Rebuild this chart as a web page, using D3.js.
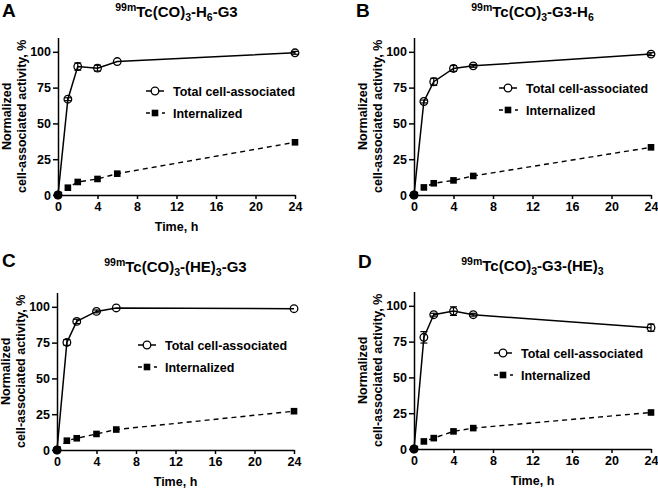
<!DOCTYPE html>
<html>
<head>
<meta charset="utf-8">
<script src="https://cdn.jsdelivr.net/npm/d3@7"></script>
<style>
  body { margin: 0; background: #fff; }
  svg text { font-family: "Liberation Sans", Arial, sans-serif; font-weight: bold; fill: #000; }
</style>
</head>
<body>
<svg id="fig" width="658" height="490"></svg>
<script>
// time points (h)
const times = [0, 1, 2, 4, 6, 24];
const xTicks = [0, 4, 8, 12, 16, 20, 24];
const yTicks = [0, 25, 50, 75, 100];

// normalized cell-associated activity, %
const totalA = [0, 66.9, 89.7, 88.6, 93.2, 99.3];
const totalAErr = [0, 1, 2.5, 2, 0.5, 1];
const internalA = [0, 5.1, 9.1, 11.2, 14.9, 36.8];

const totalB = [0, 65.3, 79.1, 88.4, 90.2, 98.4];
const totalBErr = [0, 1, 2.5, 2, 1, 1];
const internalB = [0, 5.3, 8.2, 10.2, 13.3, 33.3];

const totalC = [0, 75.1, 89.8, 96.8, 99.2, 98.7];
const totalCErr = [0, 2, 1.5, 1, 0.5, 0.5];
const internalC = [0, 6.5, 8.2, 11.2, 14.3, 27.1];

const totalD = [0, 78, 93.8, 96.3, 93.8, 84.7];
const totalDErr = [0, 4, 1, 3, 1, 2.5];
const internalD = [0, 5.3, 7.6, 12.3, 14.6, 25.5];

const legendLabels = ["Total cell-associated", "Internalized"];

// title pieces: [text, role]
const titleA = [["99m", "sup"], ["Tc(CO)", ""], ["3", "sub"], ["-H", ""], ["6", "sub"], ["-G3", ""]];
const titleB = [["99m", "sup"], ["Tc(CO)", ""], ["3", "sub"], ["-G3-H", ""], ["6", "sub"]];
const titleC = [["99m", "sup"], ["Tc(CO)", ""], ["3", "sub"], ["-(HE)", ""], ["3", "sub"], ["-G3", ""]];
const titleD = [["99m", "sup"], ["Tc(CO)", ""], ["3", "sub"], ["-G3-(HE)", ""], ["3", "sub"]];

const panels = [
  {letter: "A", title: titleA, total: totalA, err: totalAErr, internal: internalA,
   left: 58, bottom: 195, letterX: 2, letterY: 17, legX: 155, legY: 91, xLabel: true},
  {letter: "B", title: titleB, total: totalB, err: totalBErr, internal: internalB,
   left: 414, bottom: 195, letterX: 356, letterY: 17, legX: 508, legY: 88, xLabel: false},
  {letter: "C", title: titleC, total: totalC, err: totalCErr, internal: internalC,
   left: 57, bottom: 450, letterX: 2, letterY: 267, legX: 147, legY: 345, xLabel: true},
  {letter: "D", title: titleD, total: totalD, err: totalDErr, internal: internalD,
   left: 414, bottom: 449, letterX: 358, letterY: 268, legX: 503, legY: 353, xLabel: true}
];

const plotW = 237, plotH = 157.5;
const svg = d3.select("#fig");

panels.forEach(p => {
  const x = d3.scaleLinear().domain([0, 24]).range([p.left, p.left + plotW]);
  const y = d3.scaleLinear().domain([0, 110]).range([p.bottom, p.bottom - plotH]);
  const g = svg.append("g");

  // panel letter
  g.append("text").attr("x", p.letterX).attr("y", p.letterY)
    .attr("font-size", 19).text(p.letter);

  // title
  const t = g.append("text")
    .attr("x", (x(0) + x(24)) / 2)
    .attr("y", p.bottom - 178)
    .attr("text-anchor", "middle")
    .attr("font-size", 15);
  let shift = 0;
  p.title.forEach(([s, role]) => {
    const target = role === "sup" ? -6 : role === "sub" ? 3.5 : 0;
    t.append("tspan").attr("dy", target - shift)
      .attr("font-size", role ? 10.5 : 15).text(s);
    shift = target;
  });

  // axes
  const xAxis = g.append("g").attr("transform", `translate(0,${p.bottom})`)
    .call(d3.axisBottom(x).tickValues(xTicks).tickSize(4).tickPadding(3).tickSizeOuter(0));
  const yAxis = g.append("g").attr("transform", `translate(${p.left},0)`)
    .call(d3.axisLeft(y).tickValues(yTicks).tickSize(5).tickPadding(2).tickSizeOuter(0));
  [xAxis, yAxis].forEach(a => {
    a.attr("font-family", null);
    a.select(".domain").attr("stroke", "#000").attr("stroke-width", 1.5);
    a.selectAll(".tick line").attr("stroke", "#000").attr("stroke-width", 1.5);
    a.selectAll(".tick text").attr("font-size", 12.5);
  });

  // axis labels
  const yMid = (y(0) + y(110)) / 2;
  const yl = g.append("text").attr("transform", `translate(${p.left - 47},${yMid}) rotate(-90)`)
    .attr("text-anchor", "middle").attr("font-size", 12.5);
  yl.append("tspan").attr("x", 0).attr("y", 0).text("Normalized");
  yl.append("tspan").attr("x", 0).attr("y", 15).text("cell-associated activity, %");
  if (p.xLabel) {
    g.append("text").attr("x", (x(0) + x(24)) / 2).attr("y", p.bottom + 36)
      .attr("text-anchor", "middle").attr("font-size", 12.5).text("Time, h");
  }

  const lineT = d3.line().x((d, i) => x(times[i])).y(d => y(d));

  // internalized (dashed, filled squares)
  g.append("path").datum(p.internal).attr("d", lineT)
    .attr("fill", "none").attr("stroke", "#000").attr("stroke-width", 1.4)
    .attr("stroke-dasharray", "5,4");

  // total (solid, open circles)
  g.append("path").datum(p.total).attr("d", lineT)
    .attr("fill", "none").attr("stroke", "#000").attr("stroke-width", 1.5);

  // error bars
  const eb = g.append("g").selectAll("g").data(p.total.map((v, i) => ({t: times[i], v, e: p.err[i]})))
    .enter().filter(d => d.e > 0.8).append("g");
  eb.append("line").attr("x1", d => x(d.t)).attr("x2", d => x(d.t))
    .attr("y1", d => y(d.v - d.e)).attr("y2", d => y(d.v + d.e)).attr("stroke", "#000").attr("stroke-width", 1.2);
  [-1, 1].forEach(s => eb.append("line")
    .attr("x1", d => x(d.t) - 3.5).attr("x2", d => x(d.t) + 3.5)
    .attr("y1", d => y(d.v + s * d.e)).attr("y2", d => y(d.v + s * d.e))
    .attr("stroke", "#000").attr("stroke-width", 1.2));

  g.append("g").selectAll("circle").data(p.total).enter().append("circle")
    .attr("cx", (d, i) => x(times[i])).attr("cy", d => y(d)).attr("r", 3.8)
    .attr("fill", "none").attr("stroke", "#000").attr("stroke-width", 1.3);

  g.append("g").selectAll("rect").data(p.internal).enter().append("rect")
    .attr("x", (d, i) => x(times[i]) - 3.3).attr("y", d => y(d) - 3.3)
    .attr("width", 6.6).attr("height", 6.6).attr("fill", "#000");

  // origin dot
  g.append("circle").attr("cx", x(0)).attr("cy", y(0)).attr("r", 4.3).attr("fill", "#000");

  // legend
  const lg = g.append("g");
  lg.append("line").attr("x1", p.legX - 9).attr("x2", p.legX + 9).attr("y1", p.legY).attr("y2", p.legY)
    .attr("stroke", "#000").attr("stroke-width", 1.5);
  lg.append("circle").attr("cx", p.legX).attr("cy", p.legY).attr("r", 3.8)
    .attr("fill", "#fff").attr("stroke", "#000").attr("stroke-width", 1.3);
  lg.append("line").attr("x1", p.legX - 9).attr("x2", p.legX + 10).attr("y1", p.legY + 22).attr("y2", p.legY + 22)
    .attr("stroke", "#000").attr("stroke-width", 1.4).attr("stroke-dasharray", "4,4");
  lg.append("rect").attr("x", p.legX - 3.3).attr("y", p.legY + 22 - 3.3).attr("width", 6.6).attr("height", 6.6)
    .attr("fill", "#000");
  legendLabels.forEach((s, i) => {
    lg.append("text").attr("x", p.legX + 18).attr("y", p.legY + i * 22 + 4.5)
      .attr("font-size", 12.5).text(s);
  });
});
</script>
</body>
</html>
